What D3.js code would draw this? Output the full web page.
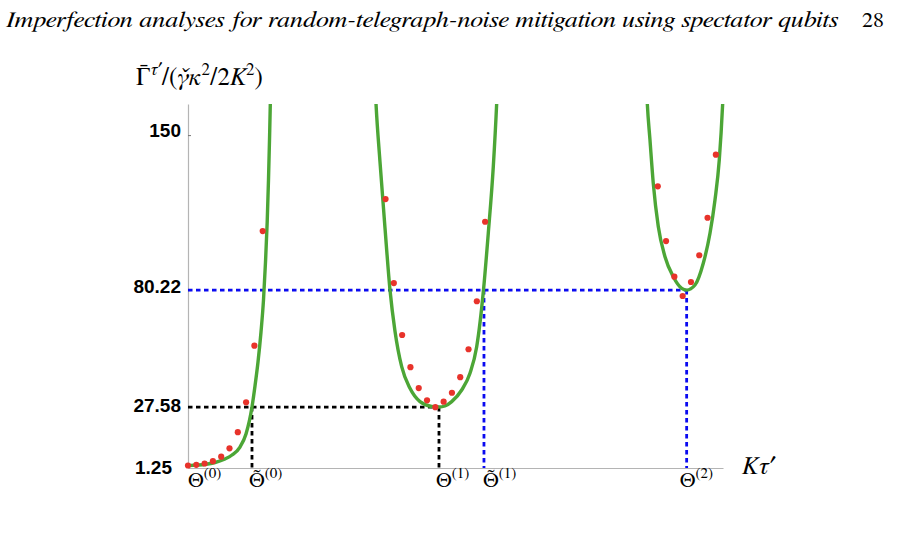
<!DOCTYPE html>
<html>
<head>
<meta charset="utf-8">
<script src="https://cdn.jsdelivr.net/npm/d3@7"></script>
<style>
  body { margin: 0; background: #fff; }
  svg { display: block; }
  .serif { font-family: "FreeSerif", "Liberation Serif", serif; }
  .sans { font-family: "Liberation Sans", "DejaVu Sans", sans-serif; }
</style>
</head>
<body>
<script>
// values marked on the vertical axis
const yTicks = [1.25, 27.58, 80.22, 150];

// positions of the marked points on the K tau' axis: Θ(0), Θ~(0), Θ(1), Θ~(1), Θ(2)
const markX = [0, 0.3855, 1.512, 1.783, 3.004];
const markBase = ["Θ", "Θ\u0303", "Θ", "Θ\u0303", "Θ"];
const markSup = ["(0)", "(0)", "(1)", "(1)", "(2)"];

// levels of the dashed guides
const levelLow = 27.58, levelHigh = 80.22;

// red dots (simulation), one pair of arrays per branch
const dotsX0 = [0, 0.05, 0.10, 0.15, 0.20, 0.25, 0.30, 0.35, 0.40, 0.45];
const dotsY0 = [1.26, 1.57, 2.16, 3.19, 5.22, 9.0, 16.25, 29.7, 55.2, 106.8];
const dotsX1 = [1.19, 1.24, 1.29, 1.34, 1.39, 1.44, 1.49, 1.54, 1.59, 1.64, 1.69, 1.74, 1.79];
const dotsY1 = [121.2, 83.4, 60.0, 45.5, 36.1, 30.6, 27.5, 30.0, 34.0, 41.0, 53.6, 75.2, 111.0];
const dotsX2 = [2.83, 2.88, 2.93, 2.98, 3.03, 3.08, 3.13, 3.18];
const dotsY2 = [126.95, 102.3, 86.25, 77.56, 83.86, 95.9, 112.8, 141.2];

// green curve (analytic), one pair per branch
const curveX0 = [0, 0.1084, 0.1627, 0.2229, 0.2651, 0.3133, 0.3494, 0.3855, 0.4036, 0.4217, 0.4398, 0.4548, 0.4669, 0.4771, 0.4849, 0.4910, 0.4958, 0.5];
const curveY0 = [1.21, 1.80, 2.61, 4.18, 5.98, 9.58, 15.44, 27.58, 37.05, 47.85, 61.36, 75.76, 92.87, 110.88, 129.78, 147.79, 164.0, 183.8];
const curveX1 = [1.1205, 1.1325, 1.1566, 1.1867, 1.2169, 1.247, 1.2873, 1.3373, 1.3976, 1.468, 1.512, 1.548, 1.5886, 1.6488, 1.6988, 1.7392, 1.7801, 1.809, 1.8392, 1.8596, 1.8705];
const curveY1 = [183.8, 164.3, 137.9, 108.2, 80.26, 61.7, 45.73, 36.01, 30.0, 27.82, 27.58, 28.04, 30.0, 35.25, 42.76, 54.73, 80.26, 105.8, 135.8, 164.3, 183.8];
const curveX2 = [2.756, 2.7669, 2.7831, 2.8030, 2.8331, 2.8735, 2.9235, 2.9741, 3.004, 3.0542, 3.1042, 3.1446, 3.1747, 3.2006, 3.2211, 3.232];
const curveY2 = [183.8, 164.3, 147.8, 128.3, 108.8, 95.25, 86.25, 81.03, 80.22, 82.5, 92.3, 105.8, 120.8, 138.8, 164.3, 183.8];

const width = 900, height = 539;
const plot = { left: 188, right: 723, top: 104, bottom: 468 };
const axisOrigin = 0.13;

const x = d3.scaleLinear().domain([0, 3.223]).range([plot.left, plot.right]);
const y = d3.scaleLinear().domain([axisOrigin, 164]).range([plot.bottom, plot.top]);

const svg = d3.select("body").append("svg")
  .attr("width", width)
  .attr("height", height);

// running header of the page
svg.append("text")
  .attr("class", "serif")
  .attr("x", 6)
  .attr("y", 27)
  .style("font-style", "italic")
  .style("font-size", "22px")
  .attr("textLength", 832)
  .attr("lengthAdjust", "spacingAndGlyphs")
  .text("Imperfection analyses for random-telegraph-noise mitigation using spectator qubits");

svg.append("text")
  .attr("class", "serif")
  .attr("x", 862)
  .attr("y", 27)
  .style("font-size", "22px")
  .text("28");

svg.append("clipPath")
  .attr("id", "plot-clip")
  .append("rect")
  .attr("x", plot.left)
  .attr("y", plot.top)
  .attr("width", plot.right - plot.left + 15)
  .attr("height", plot.bottom - plot.top);

// axes
const xAxis = svg.append("g")
  .attr("transform", `translate(0,${y(axisOrigin)})`)
  .call(d3.axisBottom(x).tickValues([]).tickSizeOuter(0));
xAxis.select(".domain").attr("stroke", "#b4b4b4").attr("stroke-width", 1.2);

const yAxis = svg.append("g")
  .attr("transform", `translate(${x(0)},0)`)
  .call(d3.axisLeft(y).tickValues(yTicks).tickSize(-3).tickSizeOuter(0).tickPadding(7).tickFormat(d => d));
yAxis.attr("font-family", null).attr("font-size", null);
yAxis.select(".domain").attr("stroke", "#b4b4b4").attr("stroke-width", 1.2);
yAxis.selectAll(".tick line").attr("stroke", "#777");
yAxis.selectAll(".tick text")
  .attr("class", "sans")
  .style("font-weight", "bold")
  .style("font-size", "19px")
  .attr("fill", "#000")
  .attr("x", d => d === 1.25 ? -16 : -7)
  .attr("y", d => d === 150 ? -5 : d === 80.22 ? -4 : d === 27.58 ? -1.5 : 2);

// dashed guides
const guides = svg.append("g")
  .attr("fill", "none")
  .attr("stroke-width", 2.8)
  .attr("stroke-dasharray", "4.5,3.5");

guides.append("line")
  .attr("x1", x(0)).attr("x2", x(markX[2]))
  .attr("y1", y(levelLow)).attr("y2", y(levelLow))
  .attr("stroke", "#000");
guides.append("line")
  .attr("x1", x(0)).attr("x2", x(markX[4]))
  .attr("y1", y(levelHigh)).attr("y2", y(levelHigh))
  .attr("stroke", "#0a0af0");

[[markX[1], levelLow, "#000"], [markX[2], levelLow, "#000"],
 [markX[3], levelHigh, "#0a0af0"], [markX[4], levelHigh, "#0a0af0"]].forEach(([mx, lv, col]) => {
  guides.append("line")
    .attr("x1", x(mx)).attr("x2", x(mx))
    .attr("y1", y(lv)).attr("y2", y(axisOrigin))
    .attr("stroke", col);
});

// analytic curve
const line = d3.line()
  .x(d => x(d[0]))
  .y(d => y(d[1]))
  .curve(d3.curveMonotoneX);

const curves = [d3.zip(curveX0, curveY0), d3.zip(curveX1, curveY1), d3.zip(curveX2, curveY2)];

svg.append("g")
  .attr("clip-path", "url(#plot-clip)")
  .selectAll("path")
  .data(curves)
  .enter().append("path")
  .attr("d", line)
  .attr("fill", "none")
  .attr("stroke", "#4ca636")
  .attr("stroke-width", 3.4);

// simulated points
const dots = [].concat(d3.zip(dotsX0, dotsY0), d3.zip(dotsX1, dotsY1), d3.zip(dotsX2, dotsY2));

svg.append("g")
  .selectAll("circle")
  .data(dots)
  .enter().append("circle")
  .attr("cx", d => x(d[0]))
  .attr("cy", d => y(d[1]))
  .attr("r", 3.1)
  .attr("fill", "#e8332b");

// labels under the horizontal axis
const markDx = [0, -3, -3, -1, -7];
const marks = svg.append("g")
  .attr("class", "serif")
  .style("font-size", "21px");

markX.forEach((mx, i) => {
  const t = marks.append("text")
    .attr("x", x(mx) + markDx[i])
    .attr("y", 487);
  t.append("tspan").text(markBase[i]);
  t.append("tspan")
    .style("font-size", "15px")
    .attr("dy", -9)
    .text(markSup[i]);
});

// axis titles
svg.append("text")
  .attr("class", "serif")
  .attr("x", 742)
  .attr("y", 474)
  .style("font-style", "italic")
  .style("font-size", "25px")
  .text("Kτ′");

const yl = svg.append("text")
  .attr("class", "serif")
  .attr("x", 136)
  .attr("y", 85)
  .style("font-size", "25px");
yl.append("tspan").text("Γ\u0304");
yl.append("tspan").style("font-size", "17px").style("font-style", "italic").attr("dy", -10).text("τ′");
yl.append("tspan").attr("dy", 10).text("/(");
yl.append("tspan").style("font-style", "italic").text("γ\u030Cκ");
yl.append("tspan").style("font-size", "17px").attr("dy", -10).text("2");
yl.append("tspan").attr("dy", 10).text("/2");
yl.append("tspan").style("font-style", "italic").text("K");
yl.append("tspan").style("font-size", "17px").attr("dy", -10).text("2");
yl.append("tspan").attr("dy", 10).text(")");
</script>
</body>
</html>
